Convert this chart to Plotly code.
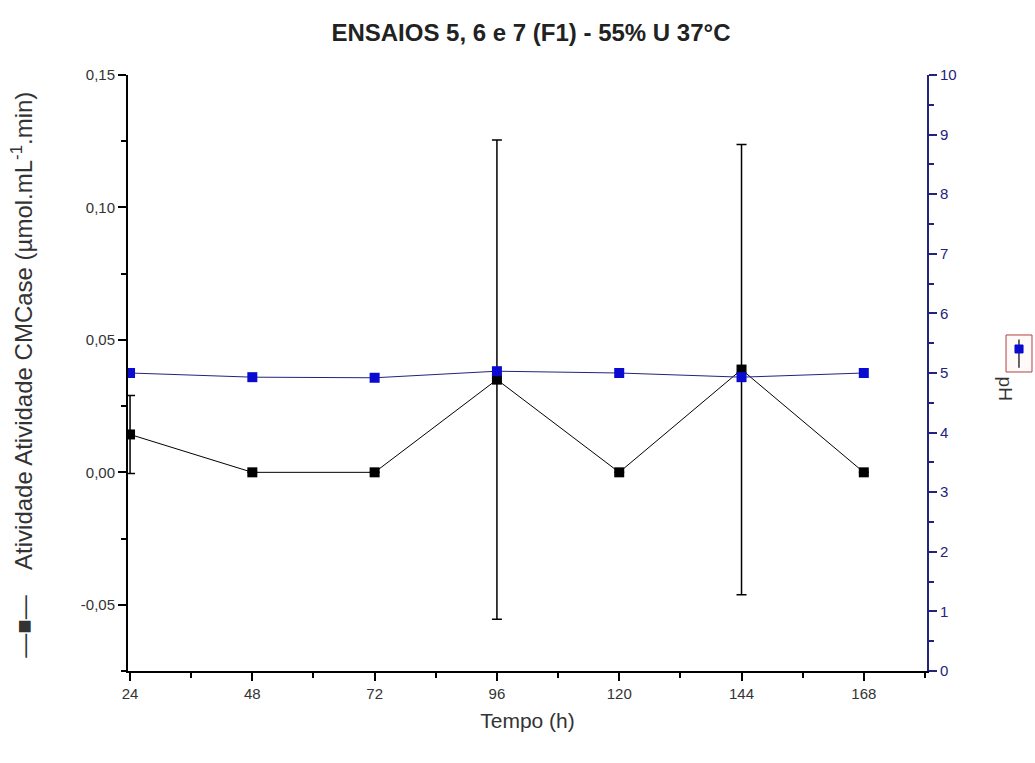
import plotly.graph_objects as go

tempo = [24, 48, 72, 96, 120, 144, 168]
atividade = [0.0143, 0.0, 0.0, 0.035, 0.0, 0.0388, 0.0]
atividade_err = [0.0147, 0.0, 0.0, 0.0905, 0.0, 0.085, 0.0]
ph = [5.0, 4.93, 4.92, 5.03, 5.0, 4.93, 5.0]

x_ticks = [24, 48, 72, 96, 120, 144, 168]
y1_ticks = [-0.05, 0.0, 0.05, 0.10, 0.15]
y1_labels = ["-0,05", "0,00", "0,05", "0,10", "0,15"]
y2_ticks = list(range(0, 11))

navy = "#23237a"
FONT = "Liberation Sans, Arial"

fig = go.Figure()
fig.add_trace(go.Scatter(
    x=tempo, y=atividade, mode="lines+markers",
    line=dict(color="black", width=1),
    marker=dict(symbol="square", size=10, color="black"),
    error_y=dict(type="data", array=atividade_err, visible=True,
                 color="black", thickness=1.5, width=5),
    yaxis="y", xaxis="x", showlegend=False,
))
fig.add_trace(go.Scatter(
    x=tempo, y=ph, mode="lines+markers",
    line=dict(color=navy, width=1),
    marker=dict(symbol="square", size=10, color="#0a0ad0"),
    yaxis="y2", xaxis="x", showlegend=False,
))

xr = [23.6, 180.4]
fig.update_layout(
    width=1035, height=763,
    margin=dict(l=128, r=108, t=75, b=92),
    paper_bgcolor="white", plot_bgcolor="white",
    font=dict(family=FONT, size=15, color="#333333"),
    title=dict(text="<b>ENSAIOS 5, 6 e 7 (F1) - 55% U 37°C</b>",
               x=0.513, xanchor="center", y=0.957, yanchor="middle",
               font=dict(family=FONT, size=24, color="#222222")),
    xaxis=dict(range=xr, tickmode="array", tickvals=x_ticks, ticks="outside", ticklen=8,
               tickcolor="black", tickwidth=1.5,
               showline=True, linecolor="black", linewidth=2,
               showgrid=False, zeroline=False,
               tickfont=dict(family=FONT, size=15, color="#333333"),
               minor=dict(tickvals=[36, 60, 84, 108, 132, 156, 180], ticks="outside",
                          ticklen=5, tickcolor="black", tickwidth=1.5),
               title=dict(text="Tempo (h)", standoff=12,
                          font=dict(family=FONT, size=21, color="#333333"))),
    xaxis2=dict(range=xr, overlaying="x", side="top", matches="x",
                tickmode="array",
                tickvals=[24, 36, 48, 60, 72, 84, 96, 108, 120, 132, 144, 156, 168, 180],
                ticks="inside", ticklen=5, tickcolor="black", tickwidth=1.5,
                showticklabels=False, showline=True, linecolor="black", linewidth=2,
                showgrid=False, zeroline=False),
    yaxis=dict(range=[-0.075, 0.15], tickmode="array", tickvals=y1_ticks, ticktext=y1_labels,
               ticks="outside", ticklen=8, tickcolor="black", tickwidth=1.5,
               showline=True, linecolor="black", linewidth=2,
               showgrid=False, zeroline=False,
               tickfont=dict(family=FONT, size=15, color="#333333"),
               minor=dict(tickvals=[-0.075, -0.025, 0.025, 0.075, 0.125], ticks="outside",
                          ticklen=5, tickcolor="black", tickwidth=1.5)),
    yaxis2=dict(range=[0, 10], overlaying="y", side="right", tickmode="array", tickvals=y2_ticks,
                ticks="outside", ticklen=8, tickcolor=navy, tickwidth=1.5,
                showline=True, linecolor=navy, linewidth=2,
                showgrid=False, zeroline=False,
                tickfont=dict(family=FONT, size=15, color=navy),
                minor=dict(tickvals=[0.5 + i for i in range(10)], ticks="outside",
                           ticklen=5, tickcolor=navy, tickwidth=1.5)),
)

# left axis title with legend symbol
fig.add_annotation(xref="paper", yref="paper", x=-0.1327, y=0.497,
                   xanchor="center", yanchor="middle", textangle=-90, showarrow=False,
                   text="—■—    Atividade Atividade CMCase (µmol.mL<sup>-1</sup>.min)",
                   font=dict(family=FONT, size=24, color="#333333"))

# pH legend box and title on the right
fig.add_shape(type="rect", xref="paper", yref="paper",
              x0=1.0989, x1=1.1314, y0=0.5017, y1=0.5638,
              line=dict(color="#b04040", width=1), fillcolor="#fffafa")
fig.add_shape(type="line", xref="paper", yref="paper",
              x0=1.1151, x1=1.1151, y0=0.509, y1=0.556,
              line=dict(color="#333333", width=1.5))
fig.add_shape(type="rect", xref="paper", yref="paper",
              x0=1.1101, x1=1.1202, y0=0.5336, y1=0.5470,
              line=dict(color="#0a0ad0", width=1), fillcolor="#0a0ad0")
fig.add_annotation(xref="paper", yref="paper", x=1.1151, y=0.4966, yanchor="top",
                   text="pH", textangle=90, showarrow=False,
                   font=dict(family=FONT, size=19, color="#333333"))

fig.write_html("out.html")
